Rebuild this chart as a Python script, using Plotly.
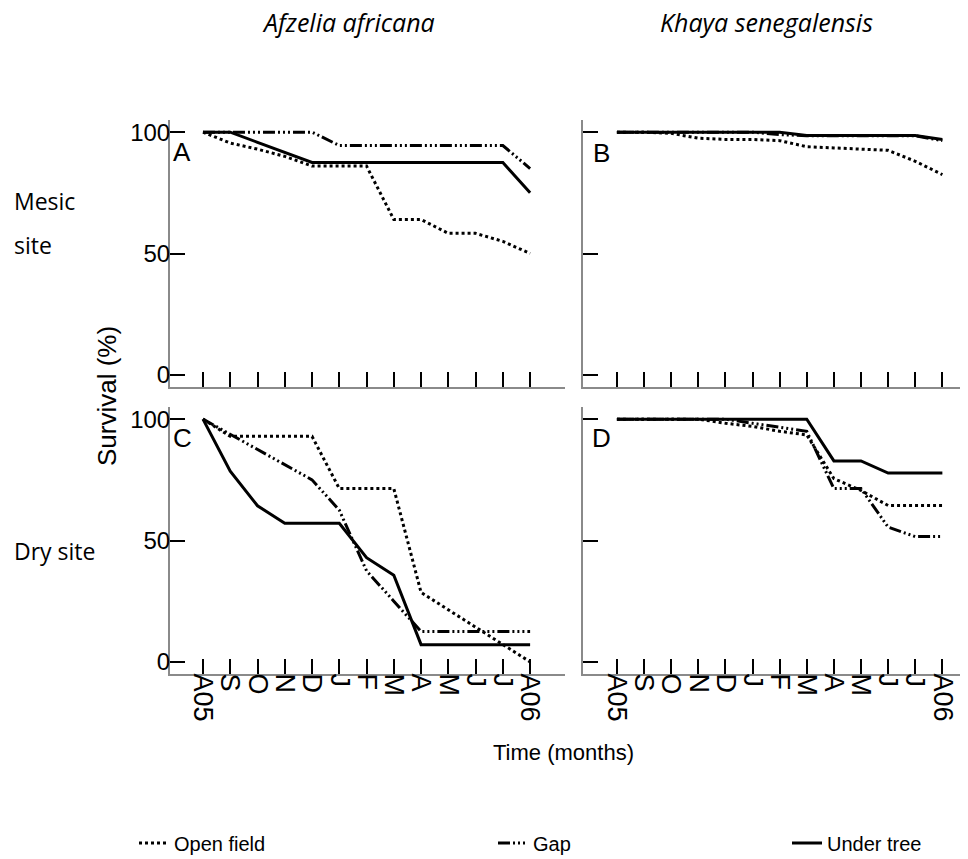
import plotly.graph_objects as go

# ---------------- data ----------------
months = ["A05", "S", "O", "N", "D", "J", "F", "M", "A", "M", "J", "J", "A06"]
x_idx = list(range(len(months)))

series_names = ["Open field", "Gap", "Under tree"]

# Panel A: Afzelia africana, mesic site
afz_mesic_open = [100, 95.5, 93, 90, 86, 86, 86, 64, 64, 58.3, 58.3, 55, 50]
afz_mesic_gap = [100, 100, 100, 100, 100, 94.5, 94.5, 94.5, 94.5, 94.5, 94.5, 94.5, 85]
afz_mesic_under = [100, 100, 95.8, 91.7, 87.5, 87.5, 87.5, 87.5, 87.5, 87.5, 87.5, 87.5, 75]
# Panel B: Khaya senegalensis, mesic site
kha_mesic_open = [100, 100, 99.5, 97.5, 97, 97, 96.5, 94, 93.5, 93, 92.5, 88, 82.5]
kha_mesic_gap = [100, 100, 100, 100, 100, 100, 99, 98.5, 98.5, 98.5, 98.5, 98.5, 96.5]
kha_mesic_under = [100, 100, 100, 100, 100, 100, 100, 98.6, 98.6, 98.6, 98.6, 98.6, 97]
# Panel C: Afzelia africana, dry site
afz_dry_open = [100, 92.9, 92.9, 92.9, 92.9, 71.4, 71.4, 71.4, 28.6, 21.4, 14.3, 7.1, 0]
afz_dry_gap = [100, 93.8, 87.5, 81.3, 75, 62.5, 37.5, 25, 12.5, 12.5, 12.5, 12.5, 12.5]
afz_dry_under = [100, 78.6, 64.3, 57.1, 57.1, 57.1, 42.9, 35.7, 7.1, 7.1, 7.1, 7.1, 7.1]
# Panel D: Khaya senegalensis, dry site
kha_dry_open = [100, 100, 100, 100, 98.3, 97, 95, 93.5, 75.5, 70.6, 64.4, 64.4, 64.4]
kha_dry_gap = [100, 100, 100, 100, 100, 98.3, 96.6, 95, 71.4, 71.4, 55.5, 51.6, 51.6]
kha_dry_under = [100, 100, 100, 100, 100, 100, 100, 100, 82.8, 82.8, 77.8, 77.8, 77.8]

y_ticks = [0, 50, 100]
panel_letters = ["A", "B", "C", "D"]
species = ["Afzelia africana", "Khaya senegalensis"]
sites = ["Mesic", "site", "Dry site"]

# ---------------- figure ----------------
W, H = 968, 859
def px(x):
    return x / W
def py(y):
    return 1 - y / H

styles = [
    dict(color="black", width=3, dash="dot"),
    dict(color="black", width=3, dash="12px,3px,2px,3px,2px,3px,2px,3px"),
    dict(color="black", width=3, dash="solid"),
]
legends = ["legend", "legend2", "legend3"]

panels = [
    ("x", "y", [afz_mesic_open, afz_mesic_gap, afz_mesic_under]),
    ("x2", "y2", [kha_mesic_open, kha_mesic_gap, kha_mesic_under]),
    ("x3", "y3", [afz_dry_open, afz_dry_gap, afz_dry_under]),
    ("x4", "y4", [kha_dry_open, kha_dry_gap, kha_dry_under]),
]

fig = go.Figure()
for pi, (xa, ya, data) in enumerate(panels):
    for si, vals in enumerate(data):
        fig.add_trace(go.Scatter(
            x=x_idx, y=vals, mode="lines", name=series_names[si],
            line=styles[si], xaxis=xa, yaxis=ya,
            showlegend=(pi == 0), legend=legends[si],
        ))

sans = "Liberation Sans, Arial"
cal = "Open Sans, Noto Sans, sans-serif"

left_dom = [px(170), px(565)]
right_dom = [px(583), px(960)]
top_dom = [py(387), py(120)]
bot_dom = [py(674), py(407)]

axis_common = dict(
    showgrid=False, zeroline=False, showline=True, linecolor="#8a8a8a", linewidth=2,
    ticks="inside", ticklen=15, tickwidth=1.5, tickcolor="black", mirror=False,
    automargin=False,
)

def xaxis(dom, anchor, labels, rng):
    return dict(axis_common, domain=dom, anchor=anchor, range=rng,
                tickmode="array", tickvals=x_idx, ticktext=months,
                showticklabels=labels, tickangle=90, ticklabelstandoff=-8,
                tickfont=dict(family=sans, size=27, color="black"))

def yaxis(dom, anchor, labels):
    return dict(axis_common, domain=dom, anchor=anchor, range=[-5, 105],
                tickmode="array", tickvals=y_ticks, ticktext=[str(v) for v in y_ticks],
                showticklabels=labels, ticklabelstandoff=-7,
                tickfont=dict(family=sans, size=24, color="black"))

rngL = [-1.21, 13.28]
rngR = [-1.25, 12.65]

fig.update_layout(
    template="none",
    width=W, height=H,
    margin=dict(l=0, r=0, t=0, b=0, autoexpand=False),
    paper_bgcolor="white", plot_bgcolor="white",
    xaxis=xaxis(left_dom, "y", False, rngL),
    yaxis=yaxis(top_dom, "x", True),
    xaxis2=xaxis(right_dom, "y2", False, rngR),
    yaxis2=yaxis(top_dom, "x2", False),
    xaxis3=xaxis(left_dom, "y3", True, rngL),
    yaxis3=yaxis(bot_dom, "x3", True),
    xaxis4=xaxis(right_dom, "y4", True, rngR),
    yaxis4=yaxis(bot_dom, "x4", False),
)

leg_common = dict(orientation="h", yanchor="middle", xanchor="left", y=py(843),
                  xref="container", yref="container",
                  bgcolor="rgba(0,0,0,0)", borderwidth=0,
                  font=dict(family=sans, size=20, color="black"),
                  itemwidth=30, tracegroupgap=0)
fig.update_layout(
    legend=dict(leg_common, x=px(134)),
    legend2=dict(leg_common, x=px(493)),
    legend3=dict(leg_common, x=px(787)),
)

def note(x, y, text, font, **kw):
    d = dict(x=px(x), y=py(y), text=text, showarrow=False, xref="paper", yref="paper",
             xanchor="center", yanchor="middle", font=font)
    d.update(kw)
    return d

ann = []
# species titles
ann.append(note(348, 22, "<i>" + species[0] + "</i>", dict(family=cal, size=25, color="black")))
ann.append(note(766, 22, "<i>" + species[1] + "</i>", dict(family=cal, size=25, color="black")))
# site labels
for txt, yy in [(sites[0], 201), (sites[1], 245), (sites[2], 551)]:
    ann.append(note(12, yy, txt, dict(family=cal, size=23, color="black"), xanchor="left"))
# panel letters
for letter, (xx, yy) in zip(panel_letters, [(182, 152), (601, 153), (182, 438), (601, 438)]):
    ann.append(note(xx, yy, letter, dict(family=sans, size=26, color="black")))
# axis titles
ann.append(note(107, 396, "Survival (%)", dict(family=sans, size=26, color="black"), textangle=-90))
ann.append(note(563, 752, "Time (months)", dict(family=sans, size=22, color="black")))
fig.update_layout(annotations=ann)

fig.write_html("out.html")
